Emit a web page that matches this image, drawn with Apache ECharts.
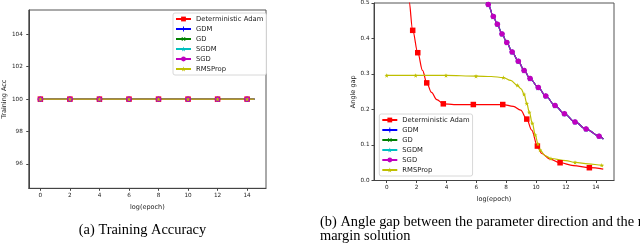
<!DOCTYPE html>
<html>
<head>
<meta charset="utf-8">
<script src="https://cdn.jsdelivr.net/npm/echarts@6/dist/echarts.min.js"></script>
<style>
html,body{margin:0;padding:0;background:#fff;}
#c{width:640px;height:246px;}
</style>
</head>
<body>
<div id="c"></div>
<script>
// ---- Data ----
const seriesNames = ['Deterministic Adam', 'GDM', 'GD', 'SGDM', 'SGD', 'RMSProp'];

// (a) Training accuracy
const accX = [0, 2, 4, 6, 8, 10, 12, 14, 14.5];
const accMark = [1, 1, 1, 1, 1, 1, 1, 1, 0];
const accAdam = [100, 100, 100, 100, 100, 100, 100, 100, 100];
const accGDM = [100, 100, 100, 100, 100, 100, 100, 100, 100];
const accGD = [100, 100, 100, 100, 100, 100, 100, 100, 100];
const accSGDM = [100, 100, 100, 100, 100, 100, 100, 100, 100];
const accSGD = [100, 100, 100, 100, 100, 100, 100, 100, 100];
const accRMS = [100, 100, 100, 100, 100, 100, 100, 100, 100];
const accTicksX = [0, 2, 4, 6, 8, 10, 12, 14];
const accTicksY = [96, 98, 100, 102, 104];

// (b) Angle gap
const adamX = [1.35, 1.49, 1.74, 2.08, 2.4, 2.68, 3.0, 3.35, 3.79, 4.5, 5.8, 6.8, 7.77, 8.48, 8.97, 9.38, 9.71, 10.09, 10.38, 10.94, 11.61, 12.5, 13.57, 14.5];
const adamY = [0.56, 0.507, 0.423, 0.360, 0.31, 0.275, 0.248, 0.228, 0.216, 0.214, 0.214, 0.214, 0.214, 0.209, 0.198, 0.173, 0.142, 0.097, 0.076, 0.060, 0.050, 0.042, 0.036, 0.032];
const adamMark = [0, 0, 1, 1, 0, 1, 0, 0, 1, 0, 1, 0, 1, 0, 0, 1, 0, 1, 0, 0, 1, 0, 1, 0];

const rmsX = [0, 1.94, 3.97, 5.98, 7.0, 7.81, 8.3, 8.75, 9.0, 9.2, 9.38, 9.55, 9.75, 9.95, 10.13, 10.27, 10.6, 11.0, 12.0, 12.61, 13.5, 14.4, 14.5];
const rmsY = [0.296, 0.296, 0.296, 0.294, 0.293, 0.290, 0.282, 0.268, 0.258, 0.243, 0.217, 0.192, 0.161, 0.128, 0.103, 0.086, 0.070, 0.062, 0.056, 0.051, 0.047, 0.043, 0.042];
const rmsMark = [1, 1, 1, 1, 0, 1, 0, 1, 0, 1, 1, 1, 1, 1, 1, 1, 0, 1, 0, 1, 0, 1, 0];

const gdX = [6.5, 6.80, 7.14, 7.41, 7.72, 8.04, 8.4, 8.81, 9.20, 9.60, 10.15, 10.65, 11.27, 11.90, 12.61, 13.35, 14.22, 14.51];
const gdY = [0.53, 0.496, 0.462, 0.440, 0.413, 0.389, 0.362, 0.336, 0.310, 0.287, 0.262, 0.238, 0.211, 0.188, 0.165, 0.145, 0.125, 0.117];
const gdMark = [0, 1, 1, 1, 1, 1, 1, 1, 1, 1, 1, 1, 1, 1, 1, 1, 1, 0];

const gapTicksX = [0, 2, 4, 6, 8, 10, 12, 14];
const gapTicksY = [0, 0.1, 0.2, 0.3, 0.4, 0.5];

// ---- Styles ----
const PLUS = 'path://M4,0L6,0L6,4L10,4L10,6L6,6L6,10L4,10L4,6L0,6L0,4L4,4Z';
const STAR = 'path://M5,0L6.2,3.5L10,3.6L7,5.9L8.1,9.5L5,7.4L1.9,9.5L3,5.9L0,3.6L3.8,3.5Z';
const styles = {
  'Deterministic Adam': {color: '#ff0000', symbol: 'rect', size: 5.5, rot: 0},
  'GDM': {color: '#0000ff', symbol: PLUS, size: 5, rot: 0},
  'GD': {color: '#008000', symbol: PLUS, size: 5, rot: 45},
  'SGDM': {color: '#00bfbf', symbol: STAR, size: 6, rot: 0},
  'SGD': {color: '#bf00bf', symbol: 'circle', size: 5.5, rot: 0},
  'RMSProp': {color: '#bfbf00', symbol: STAR, size: 4.5, rot: 0}
};

function build(xs, ys, marks) {
  return xs.map((x, i) => marks[i] ? [x, ys[i]] : {value: [x, ys[i]], symbol: 'none'});
}

function mkSeries(name, gridIdx, data, smooth) {
  const s = styles[name];
  return {
    name: name, type: 'line', xAxisIndex: gridIdx, yAxisIndex: gridIdx,
    data: data, showAllSymbol: true, symbol: s.symbol, symbolSize: s.size, symbolRotate: s.rot,
    smooth: smooth ? 0.35 : false, smoothMonotone: 'x',
    lineStyle: {color: s.color, width: 1.2},
    itemStyle: {color: s.color},
    emphasis: {disabled: true},
    animation: false
  };
}

const accData = [accAdam, accGDM, accGD, accSGDM, accSGD, accRMS];
const series = [];
seriesNames.forEach((n, i) => series.push(mkSeries(n, 0, build(accX, accData[i], accMark), false)));
series.push(mkSeries('Deterministic Adam', 1, build(adamX, adamY, adamMark), true));
series.push(mkSeries('GDM', 1, build(gdX, gdY, gdMark), true));
series.push(mkSeries('GD', 1, build(gdX, gdY, gdMark), true));
series.push(mkSeries('SGDM', 1, build(gdX, gdY, gdMark), true));
series.push(mkSeries('SGD', 1, build(gdX, gdY, gdMark), true));
series.push(mkSeries('RMSProp', 1, build(rmsX, rmsY, rmsMark), true));

const FONT = 'DejaVu Sans';
const axisCommon = {
  axisLine: {show: true, onZero: false, lineStyle: {color: '#444', width: 1}},
  axisTick: {show: true, inside: false, length: 2.5, lineStyle: {color: '#444'}},
  splitLine: {show: false},
  nameTextStyle: {fontFamily: FONT, fontSize: 6.5, color: '#222'}
};
function xAx(gridIndex, min, max, ticks, gap) {
  return Object.assign({}, axisCommon, {
    type: 'value', gridIndex, min, max, name: 'log(epoch)', nameLocation: 'middle', nameGap: gap,
    axisTick: Object.assign({}, axisCommon.axisTick, {customValues: ticks}),
    axisLabel: {customValues: ticks, fontFamily: FONT, fontSize: 5.7, color: '#222', margin: 4.5}
  });
}
function yAx(gridIndex, min, max, ticks, name, gap, fmt, margin) {
  return Object.assign({}, axisCommon, {
    type: 'value', gridIndex, min, max, name, nameLocation: 'middle', nameGap: gap,
    axisTick: Object.assign({}, axisCommon.axisTick, {customValues: ticks}),
    axisLabel: {customValues: ticks, fontFamily: FONT, fontSize: 5.7, color: '#222', margin: margin, formatter: fmt}
  });
}
function legend(left, top) {
  return {
    orient: 'vertical', left, top, data: seriesNames,
    itemWidth: 15, itemHeight: 6, itemGap: 2,
    padding: [2, 3, 2, 2],
    backgroundColor: '#fff', borderColor: '#d8d8d8', borderWidth: 1, borderRadius: 2,
    textStyle: {fontFamily: FONT, fontSize: 6.8, color: '#222', lineHeight: 8},
    selectedMode: false
  };
}

const chart = echarts.init(document.getElementById('c'), null, {renderer: 'canvas'});
chart.setOption({
  animation: false,
  backgroundColor: '#fff',
  grid: [
    {left: 27.3, top: 10, width: 238.7, height: 178.3, show: true, borderColor: '#555', borderWidth: 1, backgroundColor: 'transparent', containLabel: false},
    {left: 374, top: 2.5, width: 240, height: 178, show: true, borderColor: '#555', borderWidth: 1, backgroundColor: 'transparent', containLabel: false}
  ],
  xAxis: [
    xAx(0, -0.787, 15.28, accTicksX, 12),
    xAx(1, -0.851, 15.22, gapTicksX, 13)
  ],
  yAxis: [
    yAx(0, 94.5, 105.5, accTicksY, 'Training Acc', 19, v => String(v), 6),
    yAx(1, 0, 0.5, gapTicksY, 'Angle gap', 16, v => v.toFixed(1), 4.5)
  ],
  legend: [legend(173, 13), legend(379.3, 114)],
  series: series,
  graphic: [
    {type: 'text', x: 142.5, y: 230.5, style: {text: '(a) Training Accuracy', font: '14.4px "Liberation Serif"', fill: '#000', textAlign: 'center', textVerticalAlign: 'middle'}},
    {type: 'text', x: 320, y: 222, style: {text: '(b) Angle gap between the parameter direction and the max-', font: '14.4px "Liberation Serif"', fill: '#000', textAlign: 'left', textVerticalAlign: 'middle'}},
    {type: 'text', x: 320, y: 236.5, style: {text: 'margin solution', font: '14.4px "Liberation Serif"', fill: '#000', textAlign: 'left', textVerticalAlign: 'middle'}}
  ]
});
</script>
</body>
</html>
